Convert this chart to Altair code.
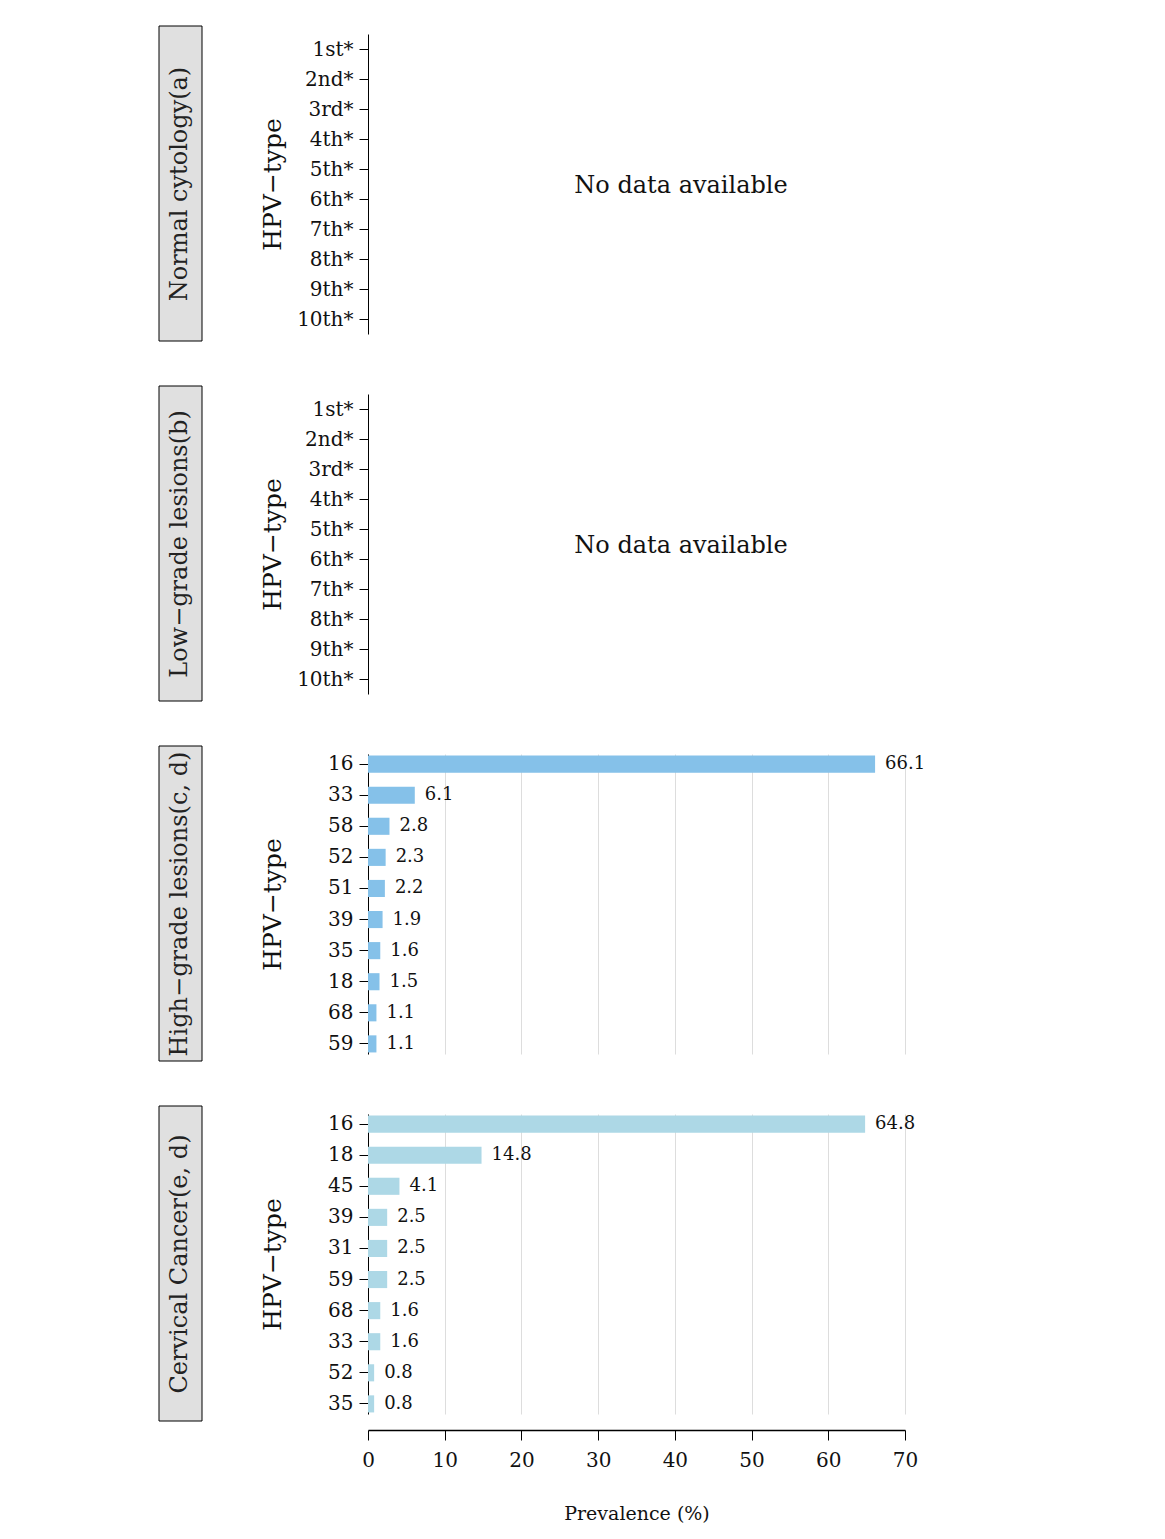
"""HPV type prevalence by cytology grade."""

import altair as alt
import pandas as pd

FONT = "DejaVu Serif"

placeholder_types = ["1st*", "2nd*", "3rd*", "4th*", "5th*", "6th*", "7th*", "8th*", "9th*", "10th*"]

high_types = ["16", "33", "58", "52", "51", "39", "35", "18", "68", "59"]
high_values = [66.1, 6.1, 2.8, 2.3, 2.2, 1.9, 1.6, 1.5, 1.1, 1.1]

cancer_types = ["16", "18", "45", "39", "31", "59", "68", "33", "52", "35"]
cancer_values = [64.8, 14.8, 4.1, 2.5, 2.5, 2.5, 1.6, 1.6, 0.8, 0.8]

panel_labels = [
    "Normal cytology(a)",
    "Low\u2212grade lesions(b)",
    "High\u2212grade lesions(c, d)",
    "Cervical Cancer(e, d)",
]

W, H = 537, 300
Y_TITLE = "HPV\u2212type"


def label_box(text):
    df = pd.DataFrame({"t": [text]})
    box = alt.Chart(df).mark_rect(fill="#e0e0e0", stroke="black", strokeWidth=1).encode(
        x=alt.value(0), x2=alt.value(43), y=alt.value(-8), y2=alt.value(H + 7)
    )
    txt = alt.Chart(df).mark_text(angle=270, font=FONT, fontSize=24, color="#222").encode(
        x=alt.value(21), y=alt.value(H / 2), text="t:N"
    )
    return (box + txt).properties(width=43, height=H)


def yaxis(cats):
    return alt.Y(
        "type:N", sort=cats, title=Y_TITLE,
        scale=alt.Scale(domain=cats, paddingInner=0.45, paddingOuter=0.05),
        axis=alt.Axis(labelFont=FONT, labelFontSize=20, labelColor="#111", titleFont=FONT,
                      titleFontSize=25, titleFontWeight="normal", titleColor="#111",
                      domainColor="black", tickColor="black", tickSize=9, titlePadding=21,
                      labelPadding=6, minExtent=62, maxExtent=62),
    )


def empty_panel():
    df = pd.DataFrame({"type": placeholder_types})
    pts = alt.Chart(df).mark_point(opacity=0).encode(x=alt.value(0), y=yaxis(placeholder_types))
    txt = alt.Chart(pd.DataFrame({"t": ["No data available"]})).mark_text(
        font=FONT, fontSize=24, color="#111"
    ).encode(x=alt.value(313), y=alt.value(152), text="t:N")
    return (pts + txt).properties(width=W, height=H)


def bar_panel(cats, vals, color, show_x):
    df = pd.DataFrame({"type": cats, "value": vals})
    axis = alt.Axis(
        values=list(range(0, 80, 10)), labelFont=FONT, labelFontSize=20, labelColor="#111",
        titleFont=FONT, titleFontSize=19, titleFontWeight="normal", titleColor="#111",
        gridColor="#dddddd", domainColor="black", tickColor="black", tickSize=10,
        titlePadding=34, labelPadding=10, domainWidth=1.5, offset=16, labelFlush=False,
    ) if show_x else alt.Axis(values=list(range(0, 80, 10)), labels=False, ticks=False,
                              domain=False, gridColor="#dddddd", title=None)
    x = alt.X("value:Q", scale=alt.Scale(domain=[0, 70]), axis=axis,
              title="Prevalence (%)" if show_x else None)
    base = alt.Chart(df).encode(x=x, y=yaxis(cats))
    bars = base.mark_bar(color=color)
    labels = base.mark_text(align="left", dx=10, font=FONT, fontSize=18, color="#111").encode(
        text=alt.Text("value:Q", format=".1f")
    )
    return (bars + labels).properties(width=W, height=H)


rows = [
    alt.hconcat(label_box(panel_labels[0]), empty_panel(), spacing=57),
    alt.hconcat(label_box(panel_labels[1]), empty_panel(), spacing=57),
    alt.hconcat(label_box(panel_labels[2]), bar_panel(high_types, high_values, "#85C1E9", False), spacing=57),
    alt.hconcat(label_box(panel_labels[3]), bar_panel(cancer_types, cancer_values, "#ADD8E6", True), spacing=57),
]

chart = (
    alt.vconcat(*rows, spacing=43)
    .properties(padding={"left": 150, "top": 17, "right": 10, "bottom": 5})
    .configure_view(stroke=None)
)

chart.save("out.html", embed_options={"renderer": "svg", "actions": False})
